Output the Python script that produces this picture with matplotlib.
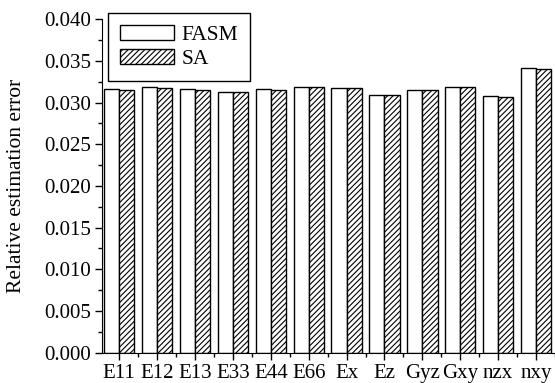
import numpy as np
import matplotlib
matplotlib.use("Agg")
import matplotlib.pyplot as plt

# data
categories = ["E11", "E12", "E13", "E33", "E44", "E66", "Ex", "Ez", "Gyz", "Gxy", "nzx", "nxy"]
fasm = [0.03157, 0.03181, 0.03157, 0.03125, 0.03157, 0.0319, 0.03177, 0.0309, 0.03153, 0.0319, 0.0308, 0.03409]
sa = [0.03155, 0.03180, 0.03155, 0.03123, 0.03155, 0.0319, 0.03176, 0.0309, 0.03150, 0.0319, 0.0307, 0.03400]
yticks = [0.000, 0.005, 0.010, 0.015, 0.020, 0.025, 0.030, 0.035, 0.040]

plt.rcParams['font.family'] = 'serif'
plt.rcParams['font.serif'] = ['Liberation Serif', 'DejaVu Serif']
plt.rcParams['hatch.linewidth'] = 0.8

fig = plt.figure(figsize=(5.55, 3.83), dpi=100)
ax = fig.add_axes([0.184, 0.079, 0.816, 0.871])

x = np.arange(len(categories))
w = 0.4
ax.bar(x - w / 2, fasm, w, facecolor='white', edgecolor='black', linewidth=1.0, label='FASM')
ax.bar(x + w / 2, sa, w, facecolor='white', edgecolor='black', linewidth=1.0, hatch='//////', label='SA')

ax.set_xlim(-0.45, 11.4)
ax.set_ylim(0, 0.040)
ax.set_xticks(x)
ax.set_xticklabels(categories)
ax.set_xticks(x + 0.5, minor=True)
ax.set_yticks(yticks)
ax.set_yticklabels([f"{v:.3f}" for v in yticks])
ax.set_yticks(np.arange(0.0025, 0.040, 0.005), minor=True)

ax.tick_params(axis='both', which='major', direction='out', length=5, width=1, labelsize=15, pad=3)
ax.tick_params(axis='both', which='minor', direction='out', length=3, width=1)
ax.spines['top'].set_visible(False)
ax.spines['right'].set_visible(False)
ax.set_ylabel("Relative estimation error", fontsize=15.5)
ax.yaxis.set_label_coords(-0.168, 0.5)

leg = ax.legend(loc='upper left', bbox_to_anchor=(0.013, 1.018), borderaxespad=0,
                fancybox=False, edgecolor='black', framealpha=1, fontsize=15.5,
                handlelength=2.5, handleheight=0.7, borderpad=0.55, labelspacing=0.2,
                handletextpad=0.35)
leg.get_frame().set_linewidth(1.0)

fig.savefig("out.png", dpi=100)
